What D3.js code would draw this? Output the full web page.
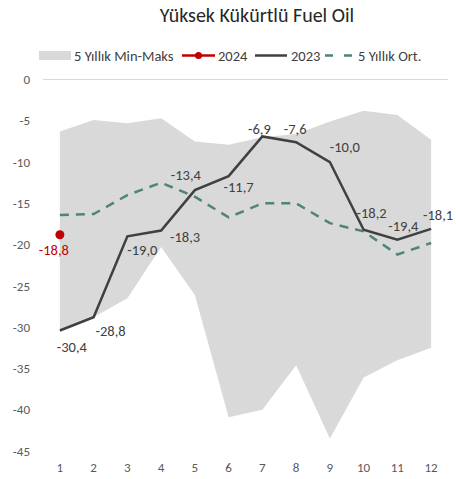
<!DOCTYPE html>
<html><head><meta charset="utf-8">
<script src="https://cdn.jsdelivr.net/npm/d3@7"></script>
<style>body{margin:0;background:#fff;} svg{display:block;font-family:Carlito,Calibri,"Liberation Sans",Arial,sans-serif;}</style>
</head><body>
<svg id="c" width="456" height="479"></svg>
<script>
// ---- data ----
const months = [1,2,3,4,5,6,7,8,9,10,11,12];
const maxVals = [-6.3,-4.9,-5.3,-4.7,-7.5,-7.9,-7.0,-6.6,-5.1,-3.8,-4.3,-7.3];
const minVals = [-30.4,-28.8,-26.5,-20.3,-26.1,-40.9,-40.0,-34.6,-43.5,-36.1,-34.0,-32.5];
const avgVals = [-16.4,-16.3,-14.0,-12.5,-14.2,-16.7,-15.0,-15.0,-17.4,-18.4,-21.2,-19.8];
const y2023 = [-30.4,-28.8,-19.0,-18.3,-13.4,-11.7,-6.9,-7.6,-10.0,-18.2,-19.4,-18.1];
const y2024 = [-18.8];
const yTicks = [0,-5,-10,-15,-20,-25,-30,-35,-40,-45];
const title = "Yüksek Kükürtlü Fuel Oil";
const legendLabels = ["5 Yıllık Min-Maks","2024","2023","5 Yıllık Ort."];

// ---- drawing ----
const FONT = "Carlito,Calibri,'Liberation Sans',Arial,sans-serif";
const svg = d3.select("#c");
const x = d3.scaleBand().domain(months).range([43, 448]);
const cx = m => x(m) + x.bandwidth()/2;
const y = d3.scaleLinear().domain([-45, 0]).range([451, 79.5]);
const fmt = v => d3.format(".1f")(v).replace(".", ",").replace("−","-");

svg.append("text").attr("x", 257).attr("y", 22).attr("text-anchor","middle")
  .attr("font-size", 20).attr("fill","#262626").text(title);

// band
const band = months.map((m,i)=>({m, lo:minVals[i], hi:maxVals[i]}));
svg.append("path").datum(band)
  .attr("d", d3.area().x(d=>cx(d.m)).y0(d=>y(d.lo)).y1(d=>y(d.hi)))
  .attr("fill","#d9d9d9");

// zero line
svg.append("line").attr("x1",43).attr("x2",448).attr("y1",y(0)).attr("y2",y(0))
  .attr("stroke","#d9d9d9").attr("stroke-width",1);

// axes
const ya = svg.append("g").attr("transform","translate(43,0)")
  .call(d3.axisLeft(y).tickValues(yTicks).tickSize(0).tickPadding(13).tickFormat(d=>d3.format("d")(d).replace("−","-")));
ya.select(".domain").remove();
ya.selectAll("text").attr("font-size",13).attr("fill","#595959").attr("font-family",FONT);
const xa = svg.append("g").attr("transform","translate(0,451)")
  .call(d3.axisBottom(x).tickSize(0).tickPadding(12));
xa.select(".domain").remove();
xa.selectAll("text").attr("font-size",13).attr("fill","#595959").attr("font-family",FONT);

// avg dashed
svg.append("path").datum(avgVals)
  .attr("d", d3.line().x((d,i)=>cx(months[i])).y(d=>y(d)))
  .attr("fill","none").attr("stroke","#4f847c").attr("stroke-width",2.5)
  .attr("stroke-dasharray","9,7");

// 2023 line
svg.append("path").datum(y2023)
  .attr("d", d3.line().x((d,i)=>cx(months[i])).y(d=>y(d)))
  .attr("fill","none").attr("stroke","#404040").attr("stroke-width",2.5);

// 2024 point
svg.selectAll(".p24").data(y2024).enter().append("circle")
  .attr("cx",(d,i)=>cx(months[i])).attr("cy",d=>y(d)).attr("r",4.5).attr("fill","#c00000");

// labels 2023 (offsets of label centre from point)
const off2023 = [[12,16],[17,14],[15,14],[24,6],[-9,-15],[10,11],[-3,-8],[-1,-13],[15,-15],[8,-17],[6,-14],[7,-14]];
svg.selectAll(".l23").data(y2023).enter().append("text")
  .attr("x",(d,i)=>cx(months[i])+off2023[i][0])
  .attr("y",(d,i)=>y(d)+off2023[i][1])
  .attr("dy","0.35em").attr("text-anchor","middle")
  .attr("font-size",14.5).attr("fill","#404040").text(fmt);
svg.selectAll(".l24").data(y2024).enter().append("text")
  .attr("x",(d,i)=>cx(months[i])-6).attr("y",d=>y(d)+15)
  .attr("dy","0.35em").attr("text-anchor","middle")
  .attr("font-size",14.5).attr("fill","#c00000").text(fmt);

// legend
const lg = svg.append("g").attr("font-size",14.5).attr("fill","#404040");
lg.append("rect").attr("x",39).attr("y",51).attr("width",32).attr("height",9).attr("fill","#d9d9d9");
lg.append("text").attr("x",74).attr("y",55.5).attr("dy","0.35em").text(legendLabels[0]);
lg.append("line").attr("x1",182).attr("x2",215).attr("y1",55.5).attr("y2",55.5).attr("stroke","#c00000").attr("stroke-width",2.5);
lg.append("circle").attr("cx",198.5).attr("cy",55.5).attr("r",3.5).attr("fill","#c00000");
lg.append("text").attr("x",218).attr("y",55.5).attr("dy","0.35em").text(legendLabels[1]);
lg.append("line").attr("x1",255).attr("x2",287).attr("y1",55.5).attr("y2",55.5).attr("stroke","#404040").attr("stroke-width",2.5);
lg.append("text").attr("x",291).attr("y",55.5).attr("dy","0.35em").text(legendLabels[2]);
lg.append("line").attr("x1",325).attr("x2",354).attr("y1",55.5).attr("y2",55.5).attr("stroke","#4f847c").attr("stroke-width",2.5).attr("stroke-dasharray","8,11");
lg.append("text").attr("x",358).attr("y",55.5).attr("dy","0.35em").text(legendLabels[3]);
</script>
</body></html>
